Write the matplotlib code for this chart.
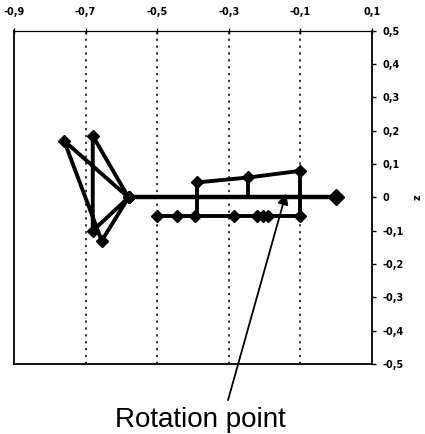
import matplotlib
matplotlib.use("Agg")
import matplotlib.pyplot as plt

plt.rcParams['font.family'] = ['Liberation Sans', 'DejaVu Sans']

# Tick values and labels (decimal comma)
x_ticks = [-0.9, -0.7, -0.5, -0.3, -0.1, 0.1]
x_labels = ["-0,9", "-0,7", "-0,5", "-0,3", "-0,1", "0,1"]
z_ticks = [0.5, 0.4, 0.3, 0.2, 0.1, 0.0, -0.1, -0.2, -0.3, -0.4, -0.5]
z_labels = ["0,5", "0,4", "0,3", "0,2", "0,1", "0", "-0,1", "-0,2", "-0,3", "-0,4", "-0,5"]

# Left cluster path
cluster_x = [-0.58, -0.76, -0.655, -0.58, -0.68, -0.68, -0.58]
cluster_z = [0.0, 0.17, -0.13, 0.0, -0.10, 0.185, 0.0]

# Main axis line
main_x = [-0.58, 0.0]
main_z = [0.0, 0.0]

# Upper track
upper_x = [-0.39, -0.245, -0.1]
upper_z = [0.045, 0.06, 0.08]

# Lower track
lower_x = [-0.5, -0.445, -0.395, -0.285, -0.22, -0.205, -0.19, -0.1]
lower_z = [-0.055, -0.055, -0.055, -0.055, -0.055, -0.055, -0.055, -0.055]

# Vertical links (x, z_top, z_bottom)
link_x = [-0.39, -0.245, -0.1]
link_top = [0.045, 0.06, 0.08]
link_bottom = [-0.055, 0.0, -0.055]

# Rotation point
rot_x, rot_z = -0.14, 0.012

fig = plt.figure(figsize=(4.25, 4.34), dpi=100)
ax = fig.add_axes([0.033, 0.161, 0.842, 0.768])
ax.set_xlim(-0.9, 0.1)
ax.set_ylim(-0.5, 0.5)

for gx in [-0.7, -0.5, -0.3, -0.1]:
    ax.axvline(gx, color='black', linestyle=(0, (1.5, 3)), linewidth=1.1, zorder=1)

lw = 2.8
ms = 6
ax.plot(cluster_x, cluster_z, color='black', lw=lw, marker='D', ms=ms, zorder=3)
ax.plot(main_x, main_z, color='black', lw=3.2, marker='D', ms=ms, zorder=3)
ax.plot([main_x[-1]], [main_z[-1]], color='black', marker='D', ms=8, zorder=4)
ax.plot(upper_x, upper_z, color='black', lw=lw, marker='D', ms=ms, zorder=3)
ax.plot(lower_x, lower_z, color='black', lw=lw, marker='D', ms=ms, zorder=3)
for lx, t, b in zip(link_x, link_top, link_bottom):
    ax.plot([lx, lx], [t, b], color='black', lw=lw, zorder=3)

ax.text(0.52, -0.168, "Rotation point", transform=ax.transAxes,
        ha='center', va='center', fontsize=20)
ax.annotate("", xy=(rot_x, rot_z), xycoords='data',
            xytext=(0.598, -0.108), textcoords='axes fraction',
            arrowprops=dict(arrowstyle='-|>', color='black', lw=1.3,
                            mutation_scale=16, shrinkA=0, shrinkB=0),
            annotation_clip=False)

tick_font = dict(family='DejaVu Sans', size=7, weight='bold')
ax.xaxis.tick_top()
ax.set_xticks(x_ticks)
ax.set_xticklabels(x_labels, fontdict=tick_font)
ax.yaxis.tick_right()
ax.set_yticks(z_ticks)
ax.set_yticklabels(z_labels, fontdict=tick_font)
ax.tick_params(axis='x', direction='inout', length=4, pad=8, width=1)
ax.tick_params(axis='y', direction='out', length=3, pad=5, width=1)
ax.yaxis.set_label_position('right')
ax.set_ylabel('z', fontdict=dict(family='DejaVu Sans', size=7, weight='bold'),
              rotation=90, labelpad=6)

ax.spines['top'].set_linestyle((0, (1, 1)))
ax.spines['top'].set_linewidth(0.9)
for s in ['left', 'right', 'bottom']:
    ax.spines[s].set_linewidth(1.3)

fig.savefig("out.png", dpi=100)
